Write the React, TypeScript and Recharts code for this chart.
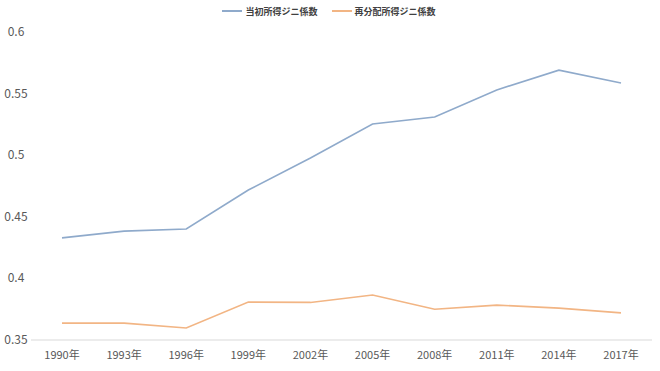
import { LineChart, Line, XAxis, YAxis, Legend } from "recharts";

const YEARS = ["1990年", "1993年", "1996年", "1999年", "2002年", "2005年", "2008年", "2011年", "2014年", "2017年"];
const INITIAL_GINI = [0.4329, 0.4384, 0.4401, 0.4717, 0.4977, 0.5253, 0.531, 0.553, 0.569, 0.5586];
const REDIST_GINI = [0.3637, 0.3637, 0.3597, 0.3808, 0.3805, 0.3865, 0.375, 0.3783, 0.3759, 0.372];
const Y_TICKS = [0.35, 0.4, 0.45, 0.5, 0.55, 0.6];

const SERIES = [
  { key: "initial", name: "当初所得ジニ係数", color: "#8faacb" },
  { key: "redist", name: "再分配所得ジニ係数", color: "#f2b584" },
];

const data = YEARS.map((year, i) => ({
  year,
  initial: INITIAL_GINI[i],
  redist: REDIST_GINI[i],
}));

const FONT = "'Noto Sans CJK JP', 'Noto Sans', sans-serif";

function YTick(props: any) {
  const { y, payload } = props;
  return (
    <text x={16} y={y} dy={4} textAnchor="middle" fontSize={12} fill="#595959" fontFamily={FONT}>
      {String(payload.value)}
    </text>
  );
}

function LegendContent() {
  return (
    <div style={{ display: "flex", justifyContent: "center", gap: 14, fontFamily: FONT, fontSize: 9, fontWeight: 700, color: "#404040", height: 16, alignItems: "center", paddingLeft: 6 }}>
      {SERIES.map((s) => (
        <div key={s.key} style={{ display: "flex", alignItems: "center" }}>
          <span style={{ display: "inline-block", width: 20, height: 2, background: s.color, marginRight: 3 }} />
          {s.name}
        </div>
      ))}
    </div>
  );
}

export default function App() {
  return (
    <div style={{ position: "absolute", left: 0, top: 0, background: "#fff" }}>
      <LineChart width={660} height={371} data={data} margin={{ top: 16, right: 8, left: 0, bottom: 0 }}>
        <Legend verticalAlign="top" align="center" content={<LegendContent />} wrapperStyle={{ top: 3 }} />
        <XAxis
          dataKey="year"
          axisLine={{ stroke: "#d9d9d9" }}
          tickLine={false}
          tick={{ fontSize: 11, fill: "#595959", fontFamily: FONT, dy: 3 }}
          padding={{ left: 31, right: 31 }}
          height={31}
        />
        <YAxis
          width={31}
          domain={[0.35, 0.6]}
          ticks={Y_TICKS}
          axisLine={false}
          tickLine={false}
          tick={<YTick />}
        />
        {SERIES.map((s) => (
          <Line
            key={s.key}
            dataKey={s.key}
            name={s.name}
            stroke={s.color}
            strokeWidth={1.6}
            dot={false}
            type="linear"
            isAnimationActive={false}
          />
        ))}
      </LineChart>
    </div>
  );
}
